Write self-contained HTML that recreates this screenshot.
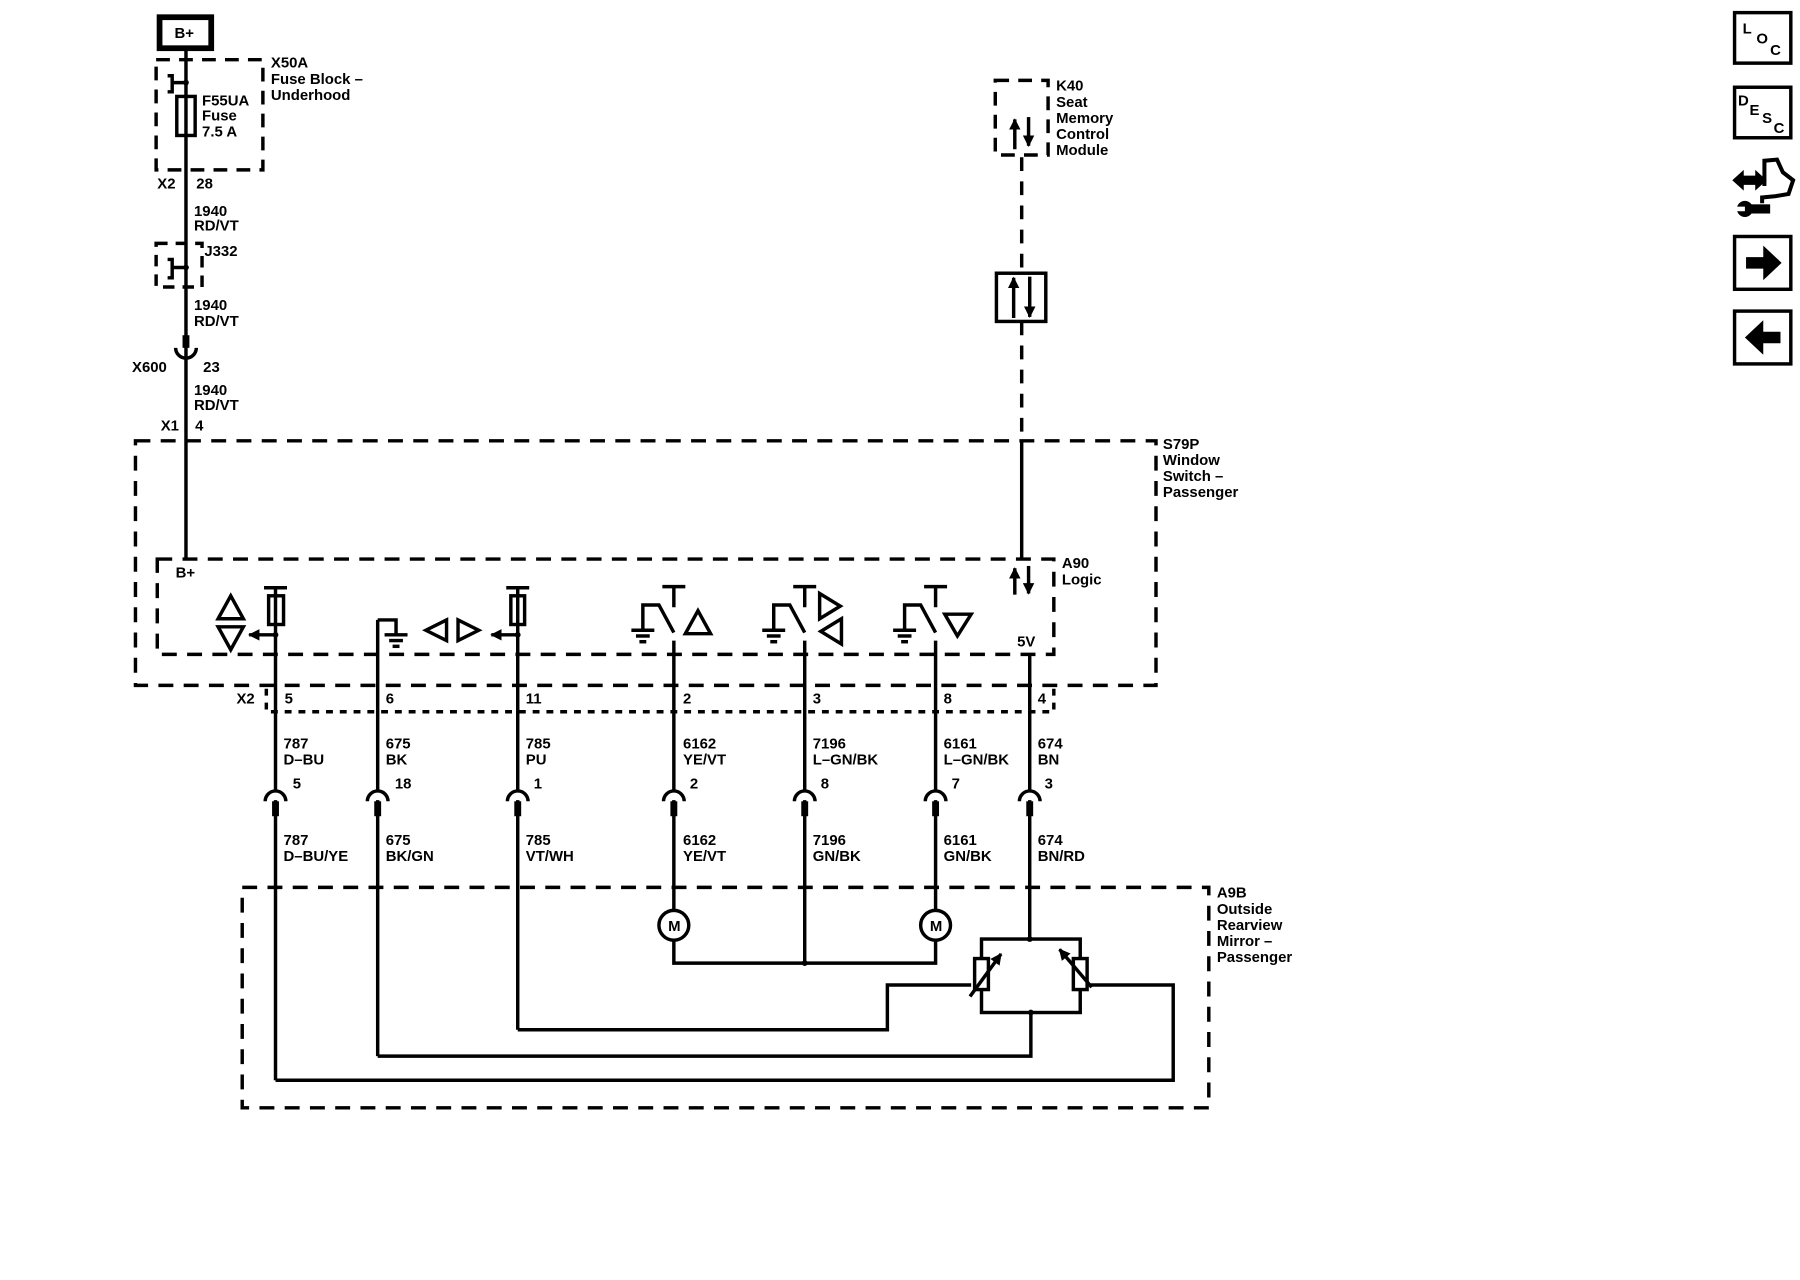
<!DOCTYPE html>
<html><head><meta charset="utf-8"><style>
html,body{margin:0;padding:0;background:#fff;}
svg{display:block;}
text{font-family:"Liberation Sans",Arial,sans-serif;font-size:13px;font-weight:bold;fill:#000;}
</style></head><body>
<svg width="1800" height="1280" viewBox="0 0 1568 1115" preserveAspectRatio="none" xmlns="http://www.w3.org/2000/svg">
<defs>
<marker id="ah" markerWidth="10" markerHeight="10" refX="9" refY="5" orient="auto" markerUnits="userSpaceOnUse"><path d="M0,0 L10,5 L0,10 Z" fill="#000"/></marker>
</defs>
<g fill="none" stroke="#000" stroke-width="3">
<rect x="139" y="15" width="45" height="27" stroke-width="5"/>
<line x1="162" y1="43" x2="162" y2="487"/>
<rect x="136" y="52" width="93" height="96" stroke-dasharray="12 8" stroke-width="3"/>
<path d="M162,72 H150 V66 H146 M150,72 V80 H146"/>
<rect x="154" y="84" width="16" height="34"/>
<rect x="136" y="212" width="40" height="38" stroke-dasharray="10 7" stroke-width="3"/>
<path d="M162,233 H150 V226 H146 M150,233 V242 H146"/>
<line x1="162" y1="292" x2="162" y2="303" stroke-width="6"/>
<path d="M153,303 A9,9 0 0 0 171,303"/>
<rect x="118" y="384" width="889" height="213" stroke-dasharray="13 9" stroke-width="3"/>
<rect x="137" y="487" width="781" height="83" stroke-dasharray="13 9" stroke-width="3"/>
<path d="M232,600 V620 H918 V597" stroke-dasharray="6 6" stroke-width="3"/>
<rect x="867" y="70" width="46" height="65" stroke-dasharray="12 8" stroke-width="3"/>
<line x1="890" y1="137" x2="890" y2="237" stroke-dasharray="12 9" stroke-width="3"/>
<rect x="868" y="238" width="43" height="42"/>
<line x1="890" y1="280" x2="890" y2="384" stroke-dasharray="12 9" stroke-width="3"/>
<line x1="890" y1="384" x2="890" y2="487"/>
<rect x="211" y="773" width="842" height="192" stroke-dasharray="13 9" stroke-width="3"/>

<line x1="240" y1="512" x2="240" y2="689"/><line x1="240" y1="697" x2="240" y2="941"/>
<line x1="329" y1="540" x2="329" y2="689"/><line x1="329" y1="697" x2="329" y2="920"/>
<line x1="451" y1="512" x2="451" y2="689"/><line x1="451" y1="697" x2="451" y2="897"/>
<line x1="587" y1="558" x2="587" y2="689"/><line x1="587" y1="697" x2="587" y2="793"/>
<line x1="701" y1="558" x2="701" y2="689"/><line x1="701" y1="697" x2="701" y2="839"/>
<line x1="815" y1="558" x2="815" y2="689"/><line x1="815" y1="697" x2="815" y2="793"/>
<line x1="897" y1="570" x2="897" y2="689"/><line x1="897" y1="697" x2="897" y2="818"/>
<g>
<path d="M231,698 A9,9 0 0 1 249,698"/><line x1="240" y1="698" x2="240" y2="711" stroke-width="6"/>
<path d="M320,698 A9,9 0 0 1 338,698"/><line x1="329" y1="698" x2="329" y2="711" stroke-width="6"/>
<path d="M442,698 A9,9 0 0 1 460,698"/><line x1="451" y1="698" x2="451" y2="711" stroke-width="6"/>
<path d="M578,698 A9,9 0 0 1 596,698"/><line x1="587" y1="698" x2="587" y2="711" stroke-width="6"/>
<path d="M692,698 A9,9 0 0 1 710,698"/><line x1="701" y1="698" x2="701" y2="711" stroke-width="6"/>
<path d="M806,698 A9,9 0 0 1 824,698"/><line x1="815" y1="698" x2="815" y2="711" stroke-width="6"/>
<path d="M888,698 A9,9 0 0 1 906,698"/><line x1="897" y1="698" x2="897" y2="711" stroke-width="6"/>
</g>

<line x1="230" y1="512" x2="250" y2="512"/>
<rect x="234" y="519" width="13" height="25"/>
<line x1="240" y1="553" x2="217" y2="553" marker-end="url(#ah)"/>
<path d="M190,539 L201,519 L212,539 Z"/>
<path d="M190,546 L201,566 L212,546 Z"/>
<path d="M329,540 H345 V553"/>
<line x1="335" y1="553" x2="355" y2="553"/><line x1="339" y1="558" x2="351" y2="558"/><line x1="342" y1="563" x2="348" y2="563" stroke-width="3"/>
<path d="M389,540 L371,549 L389,558 Z"/>
<path d="M399,540 L417,549 L399,558 Z"/>
<line x1="441" y1="512" x2="461" y2="512"/>
<rect x="445" y="519" width="12" height="25"/>
<line x1="451" y1="553" x2="428" y2="553" marker-end="url(#ah)"/>
<path d="M577,511 H597 M587,511 V529"/>
<path d="M560,549 V527 H574 L587,551"/>
<line x1="550" y1="549" x2="570" y2="549"/><line x1="554" y1="554" x2="566" y2="554"/><line x1="557" y1="559" x2="563" y2="559" stroke-width="3"/>
<path d="M597,552 L608,532 L619,552 Z"/>
<path d="M691,511 H711 M701,511 V529"/>
<path d="M674,549 V527 H688 L701,551"/>
<line x1="664" y1="549" x2="684" y2="549"/><line x1="668" y1="554" x2="680" y2="554"/><line x1="671" y1="559" x2="677" y2="559" stroke-width="3"/>
<path d="M714,517 L732,528 L714,539 Z"/>
<path d="M733,539 L715,550 L733,561 Z"/>
<path d="M805,511 H825 M815,511 V529"/>
<path d="M788,549 V527 H802 L815,551"/>
<line x1="778" y1="549" x2="798" y2="549"/><line x1="782" y1="554" x2="794" y2="554"/><line x1="785" y1="559" x2="791" y2="559" stroke-width="3"/>
<path d="M823,535 L846,535 L834,554 Z"/>

<line x1="884" y1="518" x2="884" y2="495" marker-end="url(#ah)" stroke-width="3"/>
<line x1="896" y1="493" x2="896" y2="517" marker-end="url(#ah)" stroke-width="3"/>
<line x1="884" y1="130" x2="884" y2="104" marker-end="url(#ah)" stroke-width="3"/>
<line x1="896" y1="102" x2="896" y2="127" marker-end="url(#ah)" stroke-width="3"/>
<line x1="883" y1="277" x2="883" y2="242" marker-end="url(#ah)" stroke-width="3"/>
<line x1="897" y1="241" x2="897" y2="276" marker-end="url(#ah)" stroke-width="3"/>

<circle cx="587" cy="806" r="13"/>
<circle cx="815" cy="806" r="13"/>
<path d="M587,819 V839 H815 V819"/>
<rect x="855" y="818" width="86" height="64"/>
<rect x="849" y="835" width="12" height="27" fill="#fff"/>
<rect x="935" y="835" width="12" height="27" fill="#fff"/>
<line x1="845" y1="868" x2="872" y2="831" marker-end="url(#ah)"/>
<line x1="951" y1="860" x2="923" y2="827" marker-end="url(#ah)"/>
<path d="M451,897 H773 V858 H846"/>
<path d="M329,920 H898 V882"/>
<path d="M240,941 H1022 V858 H950"/>
</g>
<g fill="#000">
<circle cx="701" cy="839" r="2.5"/><circle cx="897" cy="818" r="2.5"/><circle cx="898" cy="882" r="2.5"/>
<circle cx="162" cy="72" r="2.5"/><circle cx="162" cy="233" r="2.5"/>
<circle cx="240" cy="553" r="2.5"/><circle cx="451" cy="553" r="2.5"/>
</g>

<g fill="none" stroke="#000" stroke-width="3">
<rect x="1511" y="11" width="49" height="44"/>
<rect x="1511" y="76" width="49" height="44"/>
<rect x="1511" y="206" width="49" height="46"/>
<rect x="1511" y="271" width="49" height="46"/>
<path d="M1537,162 V140 L1548,139 L1553,150 L1562,157 L1558,169 L1546,171 L1535,172 V177" stroke-width="3.5"/>
</g>
<g fill="#000">
<path d="M1521,224 H1536 V214 L1552,229 L1536,244 V234 H1521 Z"/>
<path d="M1551,289 H1536 V279 L1520,294 L1536,309 V299 H1551 Z"/>
<path d="M1509,157 L1519,148 V153 H1529 V148 L1539,157 L1529,166 V161 H1519 V166 Z"/>
<circle cx="1520" cy="182" r="7"/>
<rect x="1520" y="178" width="22" height="8"/>
</g>
<rect x="1512" y="180" width="8" height="4" fill="#fff"/>
<text x="1518" y="29" font-size="12">L</text><text x="1530" y="38" font-size="12">O</text><text x="1542" y="48" font-size="12">C</text>
<text x="1514" y="92" font-size="11">D</text><text x="1524" y="100" font-size="11">E</text><text x="1535" y="107" font-size="11">S</text><text x="1545" y="116" font-size="11">C</text>

<text x="152" y="33">B+</text>
<text x="236" y="59">X50A</text><text x="236" y="73">Fuse Block –</text><text x="236" y="87">Underhood</text>
<text x="176" y="92">F55UA</text><text x="176" y="105">Fuse</text><text x="176" y="119">7.5 A</text>
<text x="137" y="164">X2</text><text x="171" y="164">28</text>
<text x="169" y="188">1940</text><text x="169" y="201">RD/VT</text>
<text x="178" y="223">J332</text>
<text x="169" y="270">1940</text><text x="169" y="284">RD/VT</text>
<text x="115" y="324">X600</text><text x="177" y="324">23</text>
<text x="169" y="344">1940</text><text x="169" y="357">RD/VT</text>
<text x="140" y="375">X1</text><text x="170" y="375">4</text>
<text x="1013" y="391">S79P</text><text x="1013" y="405">Window</text><text x="1013" y="419">Switch –</text><text x="1013" y="433">Passenger</text>
<text x="925" y="495">A90</text><text x="925" y="509">Logic</text>
<text x="153" y="503">B+</text>
<text x="886" y="563">5V</text>
<text x="920" y="79">K40</text><text x="920" y="93">Seat</text><text x="920" y="107">Memory</text><text x="920" y="121">Control</text><text x="920" y="135">Module</text>
<text x="206" y="613">X2</text>
<text x="248" y="613">5</text><text x="336" y="613">6</text><text x="458" y="613">11</text><text x="595" y="613">2</text><text x="708" y="613">3</text><text x="822" y="613">8</text><text x="904" y="613">4</text>
<text x="247" y="652">787</text><text x="247" y="666">D–BU</text>
<text x="336" y="652">675</text><text x="336" y="666">BK</text>
<text x="458" y="652">785</text><text x="458" y="666">PU</text>
<text x="595" y="652">6162</text><text x="595" y="666">YE/VT</text>
<text x="708" y="652">7196</text><text x="708" y="666">L–GN/BK</text>
<text x="822" y="652">6161</text><text x="822" y="666">L–GN/BK</text>
<text x="904" y="652">674</text><text x="904" y="666">BN</text>
<text x="255" y="687">5</text><text x="344" y="687">18</text><text x="465" y="687">1</text><text x="601" y="687">2</text><text x="715" y="687">8</text><text x="829" y="687">7</text><text x="910" y="687">3</text>
<text x="247" y="736">787</text><text x="247" y="750">D–BU/YE</text>
<text x="336" y="736">675</text><text x="336" y="750">BK/GN</text>
<text x="458" y="736">785</text><text x="458" y="750">VT/WH</text>
<text x="595" y="736">6162</text><text x="595" y="750">YE/VT</text>
<text x="708" y="736">7196</text><text x="708" y="750">GN/BK</text>
<text x="822" y="736">6161</text><text x="822" y="750">GN/BK</text>
<text x="904" y="736">674</text><text x="904" y="750">BN/RD</text>
<text x="1060" y="782">A9B</text><text x="1060" y="796">Outside</text><text x="1060" y="810">Rearview</text><text x="1060" y="824">Mirror –</text><text x="1060" y="838">Passenger</text>
<text x="582" y="811" font-size="11">M</text><text x="810" y="811" font-size="11">M</text>
</svg>
</body></html>
